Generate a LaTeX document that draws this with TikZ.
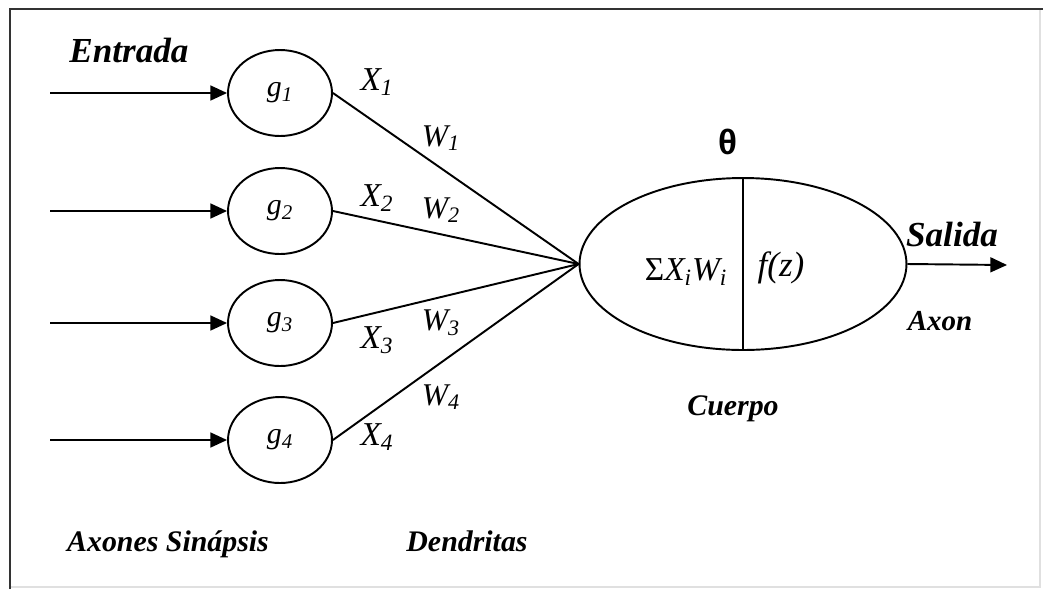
\documentclass[tikz,border=0pt]{standalone}
\usepackage{fontspec}
\setmainfont{Liberation Serif}
\newfontfamily\symfont{Liberation Sans}
\usetikzlibrary{arrows.meta,shapes.geometric}

\tikzset{
 cell/.style={draw,ellipse,line width=1.1pt,minimum width=2.08cm,minimum height=1.72cm,inner sep=0pt},
 lbl/.style={font=\fontsize{18}{20}\selectfont\itshape,inner sep=0pt},
 tag/.style={font=\fontsize{17}{19}\selectfont\bfseries\itshape,inner sep=0pt,anchor=base},
 wire/.style={line width=1.1pt},
 feed/.style={wire,-{Triangle[length=9.5pt,width=8.5pt]}},
}

\begin{document}
\begin{tikzpicture}[x=0.02cm,y=-0.02cm]
\useasboundingbox (0,0) rectangle (1043,589);
% frame
\draw[black!12,line width=1pt] (1040,9) -- (1040,587) -- (10,587);
\draw[black!80,line width=1.6pt] (10,589) -- (10,9) -- (1043,9);

% cell body with summation and activation
\node[cell,minimum width=6.54cm,minimum height=3.44cm] (body) at (743,264) {};
\draw[wire] (body.north) -- (body.south);
\node[font=\fontsize{19}{21}\selectfont,inner sep=0pt] (sum) at (686,272) {Σ\textit{X\textsubscript{i}W\textsubscript{i}}};
\node[lbl,font=\fontsize{20}{22}\selectfont\itshape] (act) at (781,268) {f(z)};
\node[font=\symfont\fontsize{20}{22}\selectfont\bfseries,inner sep=0pt] (theta) at (728,142) {θ};

% inputs g1..g4
\foreach \i/\y in {1/93,2/211,3/323,4/440} {
 \node[cell,lbl,font=\fontsize{17}{19}\selectfont\itshape] (g\i) at (280,\y) {g\textsubscript{\i}};
 \coordinate (in\i) at (50,\y);
 \draw[feed] (in\i) -- (g\i);
 \draw[wire] (g\i.east) -- (body.west);
}
\foreach \i/\xy/\wy in {1/82/138,2/198/210,3/340/323,4/437/397} {
 \node[lbl,font=\fontsize{19}{21}\selectfont\itshape] (x\i) at (377,\xy) {X\textsubscript{\i}};
 \node[lbl] (w\i) at (441,\wy) {W\textsubscript{\i}};
}

% output
\coordinate (out) at (1007,265);
\draw[feed] (body.east) -- (out);

\node[tag,font=\fontsize{20}{22}\selectfont\bfseries\itshape] (entrada) at (129,62) {Entrada};
\node[tag,font=\fontsize{20}{22}\selectfont\bfseries\itshape] (salida) at (952,246) {Salida};
\node[tag,font=\fontsize{16.5}{18}\selectfont\bfseries\itshape] (axon) at (940,330) {Axon};
\node[tag] (cuerpo) at (733,415) {Cuerpo};
\node[tag] (axones) at (168,551) {Axones Sinápsis};
\node[tag] (dendritas) at (467,551) {Dendritas};
\end{tikzpicture}
\end{document}
